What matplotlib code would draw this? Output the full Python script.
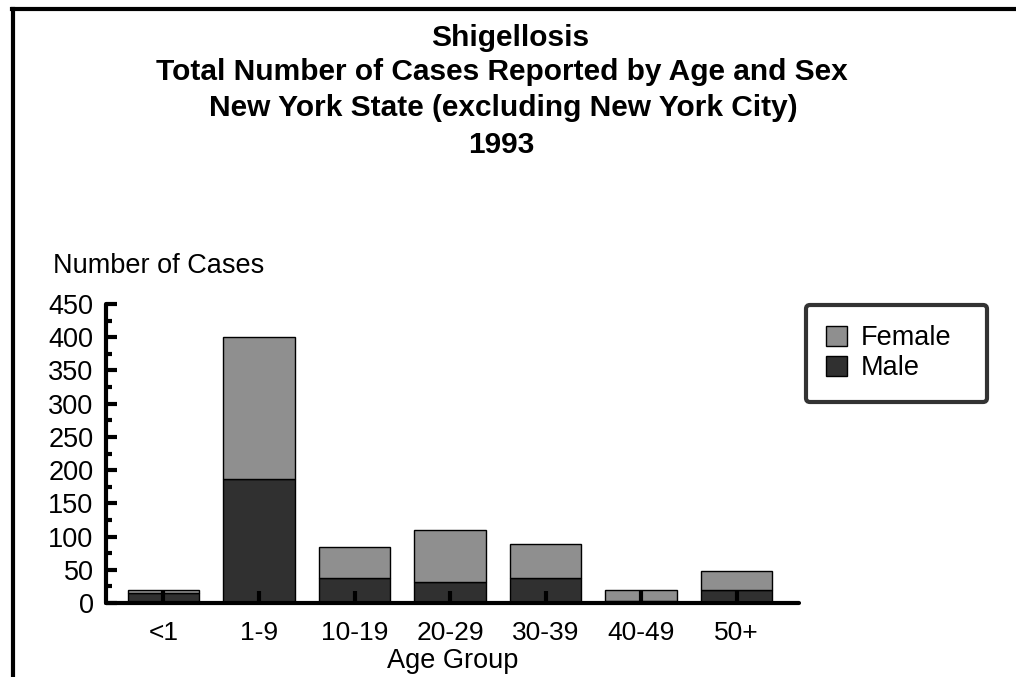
import matplotlib
matplotlib.use("Agg")
import matplotlib.pyplot as plt
from matplotlib.lines import Line2D
from matplotlib.ticker import MultipleLocator
import numpy as np

plt.rcParams['font.family'] = ['Liberation Sans', 'DejaVu Sans']

categories = ["<1", "1-9", "10-19", "20-29", "30-39", "40-49", "50+"]
male = [15, 187, 38, 32, 38, 3, 19]
female = [4, 213, 46, 78, 51, 16, 29]
title_lines = ["Shigellosis",
               "Total Number of Cases Reported by Age and Sex",
               "New York State (excluding New York City)",
               "1993"]

W, H = 1016, 677
fig = plt.figure(figsize=(W / 100, H / 100), dpi=100)
fig.patch.set_facecolor("white")

# outer frame (top and left)
fig.add_artist(Line2D([12 / W, 1.0], [1 - 9 / H, 1 - 9 / H], color="black", lw=3, transform=fig.transFigure))
fig.add_artist(Line2D([13 / W, 13 / W], [0, 1 - 9 / H], color="black", lw=3, transform=fig.transFigure))

# titles
ys = [38, 72, 108, 145]
xs = [510, 502, 503, 501]
for t, xx, y in zip(title_lines, xs, ys):
    fig.text(xx / W, 1 - y / H, t, ha="center", va="center", fontsize=21.5, fontweight="bold")

ax = fig.add_axes([106 / W, 1 - 603 / H, (799 - 106) / W, (603 - 304) / H])
x = np.arange(len(categories))
c_female = "#8f8f8f"
c_male = "#303030"
ax.bar(x, male, width=0.75, color=c_male, edgecolor="black", linewidth=1, label="Male", zorder=2)
ax.bar(x, female, width=0.75, bottom=male, color=c_female, edgecolor="black", linewidth=1, label="Female", zorder=2)

ax.set_xlim(-0.602, 6.654)
ax.set_ylim(0, 450)
for s in ["top", "right"]:
    ax.spines[s].set_visible(False)
for s in ["left", "bottom"]:
    ax.spines[s].set_linewidth(3)
    ax.spines[s].set_capstyle("round")

ax.yaxis.set_major_locator(MultipleLocator(50))
ax.yaxis.set_minor_locator(MultipleLocator(25))
ax.tick_params(axis="y", which="major", direction="in", length=8, width=3, labelsize=19.5, pad=9)
ax.tick_params(axis="y", which="minor", direction="in", length=4, width=3)
ax.set_xticks(x)
ax.set_xticklabels(categories)
ax.tick_params(axis="x", which="major", direction="in", length=9, width=3, labelsize=19, pad=13)
for tl in ax.xaxis.get_ticklines() + ax.yaxis.get_ticklines() + ax.yaxis.get_ticklines(minor=True):
    tl.set_zorder(3)
    tl.set_solid_capstyle("round")
ax.set_axisbelow(False)

ax.set_xlabel("Age Group", fontsize=19.5, labelpad=2)
fig.text(158.5 / W, 1 - 266 / H, "Number of Cases", ha="center", va="center", fontsize=19.5)

handles, labels = ax.get_legend_handles_labels()
leg = fig.legend(handles[::-1], labels[::-1], loc="upper left",
                 bbox_to_anchor=(806 / W, 1 - 400 / H, 181 / W, 95 / H), mode="expand",
                 fontsize=19.5, frameon=True,
                 handlelength=0.78, handleheight=0.78, handletextpad=0.48,
                 borderpad=0.75, borderaxespad=0, labelspacing=0.15, fancybox=False)
leg.get_frame().set_edgecolor("black")
leg.get_frame().set_linewidth(3)
leg.get_frame().set_boxstyle("round", pad=0, rounding_size=0.15)

fig.savefig("out.png", dpi=100, facecolor="white")
